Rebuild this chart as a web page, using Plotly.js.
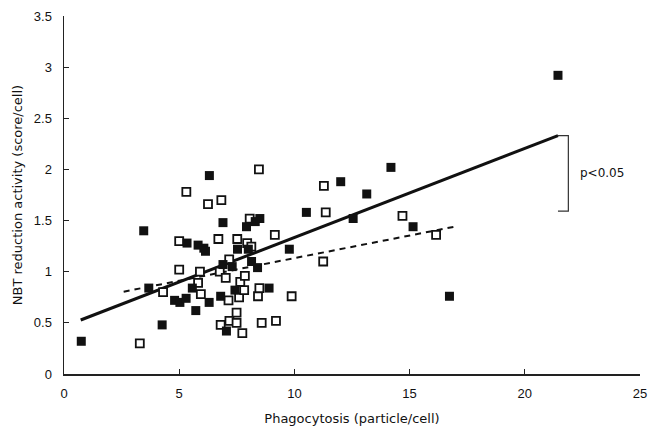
<!DOCTYPE html>
<html>
<head>
<meta charset="utf-8">
<script src="https://cdn.plot.ly/plotly-3.0.1.min.js"></script>
<style>html,body{margin:0;padding:0;background:#fff;}#chart{width:658px;height:426px;}</style>
</head>
<body>
<div id="chart"></div>
<script>
// Filled squares
var filledX = [0.75, 3.46, 3.68, 4.26, 4.80, 5.03, 5.30, 5.34, 5.57, 5.72, 5.82, 6.07, 6.14, 6.30, 6.31, 6.80, 6.90, 6.90, 7.05, 7.30, 7.42, 7.53, 7.92, 8.00, 8.14, 8.30, 8.50, 8.40, 8.90, 9.78, 10.52, 12.01, 12.55, 13.14, 14.19, 15.15, 16.73, 21.44];
var filledY = [0.32, 1.40, 0.84, 0.48, 0.72, 0.70, 0.74, 1.28, 0.84, 0.62, 1.26, 1.23, 1.20, 0.70, 1.94, 0.76, 1.48, 1.07, 0.42, 1.05, 0.82, 1.22, 1.44, 1.22, 1.10, 1.49, 1.52, 1.04, 0.84, 1.22, 1.58, 1.88, 1.52, 1.76, 2.02, 1.44, 0.76, 2.92];
// Open squares
var openX = [3.29, 4.30, 5.00, 5.00, 5.31, 5.82, 5.94, 5.90, 6.25, 6.70, 6.76, 6.83, 6.80, 7.02, 7.17, 7.14, 7.18, 7.49, 7.49, 7.52, 7.60, 7.65, 7.85, 7.82, 7.74, 7.95, 8.06, 8.13, 8.42, 8.48, 8.58, 9.20, 9.15, 9.88, 11.25, 11.36, 8.46, 11.28, 14.69, 16.15];
var openY = [0.30, 0.80, 1.30, 1.02, 1.78, 0.89, 0.78, 1.00, 1.66, 1.32, 1.00, 1.70, 0.48, 0.94, 1.12, 0.72, 0.52, 0.60, 0.50, 1.32, 0.75, 0.90, 0.96, 0.82, 0.40, 1.28, 1.52, 1.245, 0.76, 0.84, 0.50, 0.52, 1.36, 0.76, 1.10, 1.58, 2.00, 1.84, 1.545, 1.36];
// Regression lines (end points)
var solidFitX = [0.725, 21.44];
var solidFitY = [0.528, 2.33];
var dashFitX = [2.59, 17.11];
var dashFitY = [0.805, 1.447];
// Significance bracket
var bracketX = [21.44, 21.89, 21.89, 21.44];
var bracketY = [2.33, 2.33, 1.593, 1.593];
var pLabel = "p<0.05";
var pLabelX = 22.3;
var pLabelY = 1.97;

var traces = [
  {x: solidFitX, y: solidFitY, mode: 'lines', line: {color: '#111', width: 3}, hoverinfo: 'skip'},
  {x: dashFitX, y: dashFitY, mode: 'lines', line: {color: '#111', width: 2, dash: '6px,5px'}, hoverinfo: 'skip'},
  {x: bracketX, y: bracketY, mode: 'lines', line: {color: '#333', width: 1.2}, hoverinfo: 'skip'},
  {x: openX, y: openY, mode: 'markers', marker: {symbol: 'square', size: 8, color: '#fff', line: {color: '#111', width: 1.8}}},
  {x: filledX, y: filledY, mode: 'markers', marker: {symbol: 'square', size: 9, color: '#111', line: {width: 0}}}
];

var titleFont = {family: 'DejaVu Sans, sans-serif', size: 13, color: '#111'};

var layout = {
  width: 658, height: 426,
  margin: {l: 64, r: 18, t: 16, b: 52},
  paper_bgcolor: '#fff', plot_bgcolor: '#fff',
  showlegend: false,
  font: {family: 'Liberation Sans, Arial, sans-serif', size: 13, color: '#111'},
  xaxis: {
    range: [0, 25], dtick: 5, tick0: 0,
    showgrid: false, zeroline: false,
    showline: true, linecolor: '#222', linewidth: 1.5,
    ticks: 'inside', ticklen: 5, tickwidth: 1, tickcolor: '#222',
    ticklabelstandoff: 7,
    tickfont: {size: 13},
    title: {text: 'Phagocytosis (particle/cell)', font: titleFont, standoff: 14}
  },
  yaxis: {
    range: [0, 3.5], dtick: 0.5, tick0: 0,
    showgrid: false, zeroline: false,
    showline: true, linecolor: '#222', linewidth: 1.5,
    ticks: 'inside', ticklen: 5, tickwidth: 1, tickcolor: '#222',
    ticklabelstandoff: 8,
    tickfont: {size: 13},
    title: {text: 'NBT reduction activity (score/cell)', font: titleFont, standoff: 8}
  },
  annotations: [
    {x: pLabelX, y: pLabelY, xref: 'x', yref: 'y', text: pLabel, showarrow: false, xanchor: 'left', yanchor: 'middle', font: {family: 'DejaVu Sans, sans-serif', size: 12, color: '#111'}}
  ]
};

Plotly.newPlot('chart', traces, layout, {displayModeBar: false, staticPlot: true});
</script>
</body>
</html>
